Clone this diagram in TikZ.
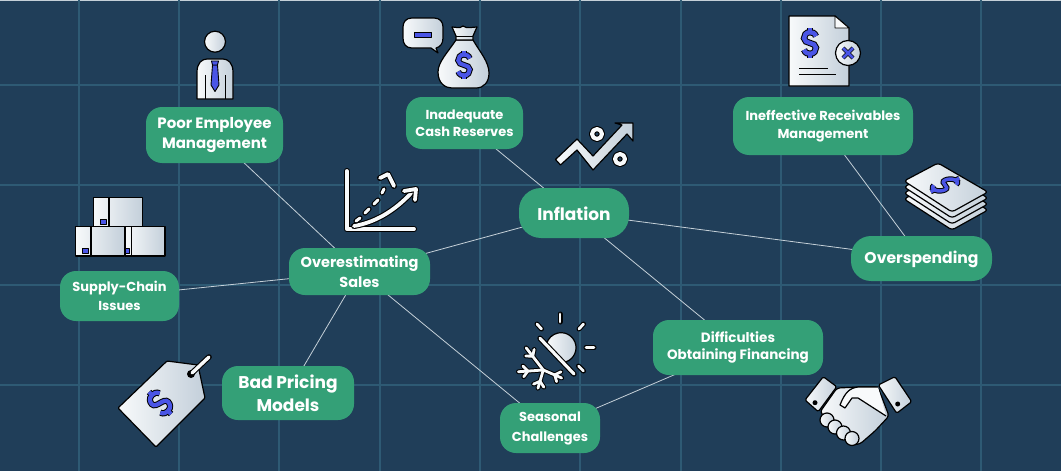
\documentclass[tikz,border=0pt]{standalone}
\usepackage{fontspec}
\setmainfont{Poppins}
\usetikzlibrary{backgrounds}
\definecolor{basenavy}{HTML}{203E59}
\definecolor{gridblue}{HTML}{2E5A74}
\definecolor{boxgreen}{HTML}{34A077}
\definecolor{linkgrey}{HTML}{C5D0D8}
\definecolor{metallight}{HTML}{F8FAFB}
\definecolor{metaldark}{HTML}{C3CFDA}
\definecolor{inkblue}{HTML}{4A55E6}
\newcommand{\sz}[2]{\fontsize{#1}{#2}\selectfont\bfseries}
% dollar sign: position, x vector, y vector, stroke width
\newcommand{\dollarmark}[4]{%
  \begin{scope}[shift={(#1)},x={(#2)},y={(#3)}]
    \foreach \wd/\col in {#4+2pt/black,#4/inkblue}{
      \draw[line width=\wd,\col] (0.85,-0.5) .. controls (0.7,-0.75) and (0.3,-0.8) .. (0,-0.8) .. controls (-0.6,-0.8) and (-0.85,-0.55) .. (-0.85,-0.35) .. controls (-0.85,0.1) and (0.85,-0.1) .. (0.85,0.35) .. controls (0.85,0.55) and (0.6,0.8) .. (0,0.8) .. controls (-0.3,0.8) and (-0.7,0.75) .. (-0.85,0.5);
      \draw[line width=\wd,\col] (0,-1.1) -- (0,-0.7) (0,0.7) -- (0,1.1);
    }
  \end{scope}}
\tikzset{
  box/.style={fill=boxgreen,text=white,align=center,inner sep=0pt,rounded corners=16pt,execute at begin node={\rule{0pt}{#1}}},
  box/.default=0pt,
  link/.style={draw=linkgrey,line width=0.8pt},
  gridline/.style={draw=gridblue,line width=1.3pt},
  metal/.style={draw=black,line width=1.2pt,line join=round,left color=metallight,right color=metaldark},
  stroke/.style={draw=black,line width=1.1pt,double=metallight,double distance=#1,line cap=round,line join=round},
  stroke/.default=3.8pt,
  inkfill/.style={draw=black,line width=0.9pt,fill=inkblue,line join=round}
}
\begin{document}
\begin{tikzpicture}[x=1pt,y=-1pt]
  \useasboundingbox (0,0) rectangle (1061,471);

  % Boxes
  \node[box=20pt,minimum width=137pt,minimum height=56pt,font=\sz{15}{20}] (poor) at (214.5,135) {Poor Employee\\Management};
  \node[box,minimum width=117pt,minimum height=52pt,font=\sz{13}{17.5}] (cash) at (464.5,123) {Inadequate\\Cash Reserves};
  \node[box=25pt,minimum width=180pt,minimum height=58pt,font=\sz{13}{17.5}] (recv) at (823,126) {Ineffective Receivables\\Management};
  \node[box=15pt,rounded corners=22pt,minimum width=110pt,minimum height=50pt,font=\sz{17}{20}] (infl) at (574,213) {Inflation};
  \node[box,minimum width=141pt,minimum height=47pt,font=\sz{14.5}{20}] (over) at (359.5,271.5) {Overestimating\\Sales};
  \node[box=16pt,minimum width=119pt,minimum height=50pt,font=\sz{13}{19}] (chain) at (119.5,296) {Supply-Chain\\Issues};
  \node[box,minimum width=132pt,minimum height=54pt,font=\sz{17}{23}] (price) at (288,393) {Bad Pricing\\Models};
  \node[box=17pt,minimum width=100pt,minimum height=50pt,font=\sz{13}{20}] (season) at (550,428) {Seasonal\\Challenges};
  \node[box=16pt,minimum width=170pt,minimum height=55pt,font=\sz{13.5}{17.5}] (fin) at (738,347.5) {Difficulties\\Obtaining Financing};
  \node[box=13.5pt,rounded corners=20pt,minimum width=141pt,minimum height=45pt,font=\sz{15.6}{20}] (spend) at (921.5,258.5) {Overspending};

  % Backdrop, grid and links
  \begin{scope}[on background layer]
    \fill[basenavy] (0,0) rectangle (1061,471);
    \fill[linkgrey] (0,0) rectangle (1061,1);
    \foreach \gx in {79,179,279,380,480,580,681,781,881,981}
      \draw[gridline] (\gx,0) -- (\gx,471);
    \foreach \gy in {85,185,285,385}
      \draw[gridline] (0,\gy) -- (1061,\gy);
    \draw[link] (poor.center) -- (over.center);
    \draw[link] (cash.center) -- (infl.center);
    \draw[link] (recv.center) -- (spend.center);
    \draw[link] (infl.center) -- (spend.center);
    \draw[link] (infl.center) -- (over.center);
    \draw[link] (infl.center) -- (fin.center);
    \draw[link] (chain.center) -- (over.center);
    \draw[link] (over.center) -- (price.center);
    \draw[link] (over.center) -- (season.center);
    \draw[link] (season.center) -- (fin.center);
  \end{scope}

  % Employee
  \draw[metal] (215,41.7) circle[radius=10.5pt];
  \draw[metal] (197,99) -- (197,72) .. controls (197,63) and (202,59) .. (207,59) -- (223,59) .. controls (228,59) and (233,63) .. (233,72) -- (233,99) -- cycle;
  \draw[line width=0.9pt] (205,75) -- (205,99) (225,75) -- (225,99);
  \draw[inkfill] (212.5,65) -- (217.5,65) -- (219,85) -- (215,91.5) -- (211,85) -- cycle;
  \draw[inkfill] (211.5,61) -- (218.5,61) -- (217.5,65) -- (212.5,65) -- cycle;

  % Speech bubble and money bag
  \draw[metal] (412,18) -- (434,18) .. controls (440,18) and (443,22) .. (443,27) -- (443,38) .. controls (443,44) and (440,47) .. (436,48) -- (438,53) -- (431,48) -- (412,48) .. controls (406,48) and (403,44) .. (403,38) -- (403,27) .. controls (403,22) and (406,18) .. (412,18) -- cycle;
  \draw[inkfill] (414.3,32) rectangle (431.7,37);
  \draw[metal] (456,40) .. controls (448,52) and (438,62) .. (438,72) .. controls (438,84) and (446,88) .. (452,88) -- (476,88) .. controls (484,88) and (489,82) .. (489,73) .. controls (489,62) and (480,52) .. (473,40) -- cycle;
  \draw[metal] (452,27) .. controls (457,27) and (459,29) .. (463,26) .. controls (467,29) and (472,27) .. (477,27) -- (473,36) -- (473,40) -- (456,40) -- (456,36) -- cycle;
  \draw[line width=0.9pt] (456,36) -- (473,36);
  \dollarmark{464,65}{6.8pt,0pt}{0pt,-13pt}{4pt}

  % Document
  \draw[metal] (789,16) -- (835,16) -- (849,28) -- (849,86) -- (789,86) -- cycle;
  \draw[draw=black,line width=0.9pt,fill=metallight,line join=round] (835,16) -- (835,28) -- (849,28) -- cycle;
  \dollarmark{810,43}{7pt,0pt}{0pt,-13.5pt}{4.4pt}
  \draw[line width=1pt] (799,68) -- (828,68) (799,74.5) -- (836,74.5);
  \draw[metal] (848,53) circle[radius=12.5pt];
  \foreach \wd/\col in {4pt/black,2.6pt/inkblue}
    \draw[line width=\wd,\col] (843,48) -- (853,58) (853,48) -- (843,58);

  % Chart
  \draw[stroke] (346.7,171) -- (346.7,229) -- (414,229);
  \draw[stroke] (354,226) .. controls (378,222) and (398,208) .. (414,190);
  \draw[stroke] (404,191) -- (416,189) -- (415,200);
  \foreach \ax/\ay/\bx/\by in {356/221/360/218,365/213/369/209,374/204/378/200,382/193/384/189}
    \draw[stroke=3pt] (\ax,\ay) -- (\bx,\by);
  \draw[stroke] (380,178) -- (388,174) -- (394,186);

  % Inflation arrow and percent
  \draw[metal] (555.5,159.5) -- (577,139) -- (593,156) -- (622,125) -- (615,123) -- (633,123) -- (633,141) -- (627,134) -- (593,170) -- (577,150) -- (560.5,165) -- cycle;
  \draw[stroke=4pt] (597,134) circle[radius=5pt];
  \draw[stroke=4pt] (620,159) circle[radius=5pt];

  % Cash stack
  \foreach \dy in {18,12,6,0}
    \draw[metal,rounded corners=3pt] (938,163+\dy) -- (988,192+\dy) -- (952,212+\dy) -- (904,181+\dy) -- cycle;
  \dollarmark{945,185}{-5.5pt,3.2pt}{13pt,6pt}{3.4pt}

  % Crates
  \draw[metal] (93.3,197.3) rectangle (142.3,226.7);
  \draw[line width=1.1pt] (109,197.3) -- (109,226.7);
  \draw[metal] (125,226.7) rectangle (165,256);
  \draw[line width=1.1pt] (131.7,226.7) -- (131.7,256);
  \draw[metal] (75.7,226.7) rectangle (124.3,256);
  \draw[line width=1.1pt] (91,226.7) -- (91,256);
  \draw[inkfill] (100.3,219.5) rectangle (106.3,224.5);
  \draw[inkfill] (82.7,248.8) rectangle (88.7,253.8);
  \draw[inkfill] (125.5,248.8) rectangle (129.5,253.8);

  % Price tag
  \draw[metal,rounded corners=1pt] (118,408) -- (167,361) -- (198,365) -- (205,398) -- (156,447) -- cycle;
  \fill[black] (191,374) circle[radius=4pt];
  \draw[stroke=3.4pt] (192,373) -- (209,357);
  \dollarmark{160,403}{5.5pt,5.5pt}{10pt,-10pt}{4.2pt}

  % Sun and snow
  \foreach \ax/\ay/\bx/\by in {560/314/560/322,537/324/541.5/329,583.5/324/579/329,586/347.7/594/347.7,578.5/366/583.5/371}
    \draw[stroke=2.8pt] (\ax,\ay) -- (\bx,\by);
  \draw[metal] (563.9,362.4) arc[start angle=281,end angle=525,radius=15pt] -- cycle;
  \draw[stroke=3.2pt] (540,338.3) -- (574,374);
  \foreach \wd/\col in {4.8pt/black,2.8pt/metallight}
    \foreach \ang/\len in {127.7/28,184/25,253.6/19,336.5/20}{
      \draw[line width=\wd,\col,line cap=round] (543.3,370) -- ++(\ang:\len pt);
      \draw[line width=\wd,\col,line cap=round] (543.3,370) ++(\ang:0.62*\len pt) -- ++(\ang+50:7pt);
      \draw[line width=\wd,\col,line cap=round] (543.3,370) ++(\ang:0.62*\len pt) -- ++(\ang-50:7pt);
    }

  % Handshake
  \draw[metal,rounded corners=3pt] (837,388) -- (820,412) -- (832,424) -- (850,445) -- (860,444) -- (875,431) -- (889,416) -- (878,387) -- (860,387) -- cycle;
  \draw[line width=1.2pt,line join=round,fill=metallight] (878,387) -- (858,387) .. controls (850,388) and (845,392) .. (840,405) -- (845,408) -- (852,398) -- (858,398) -- (886,416);
  \foreach \fx/\fy in {827/420,835/427,843.5/433,852/438.5}
    \draw[metal] (\fx,\fy) circle[radius=7pt];
  \draw[metal,rounded corners=1.5pt] (823.3,376.7) -- (836.7,386.7) -- (818.3,411.7) -- (805,400) -- cycle;
  \draw[metal,rounded corners=1.5pt] (878.3,385) -- (895,376.7) -- (911.7,401.7) -- (896.7,413.3) -- cycle;
  \fill[black] (815,402.7) circle[radius=2.5pt];
  \fill[black] (897.7,404) circle[radius=2.5pt];
\end{tikzpicture}
\end{document}
